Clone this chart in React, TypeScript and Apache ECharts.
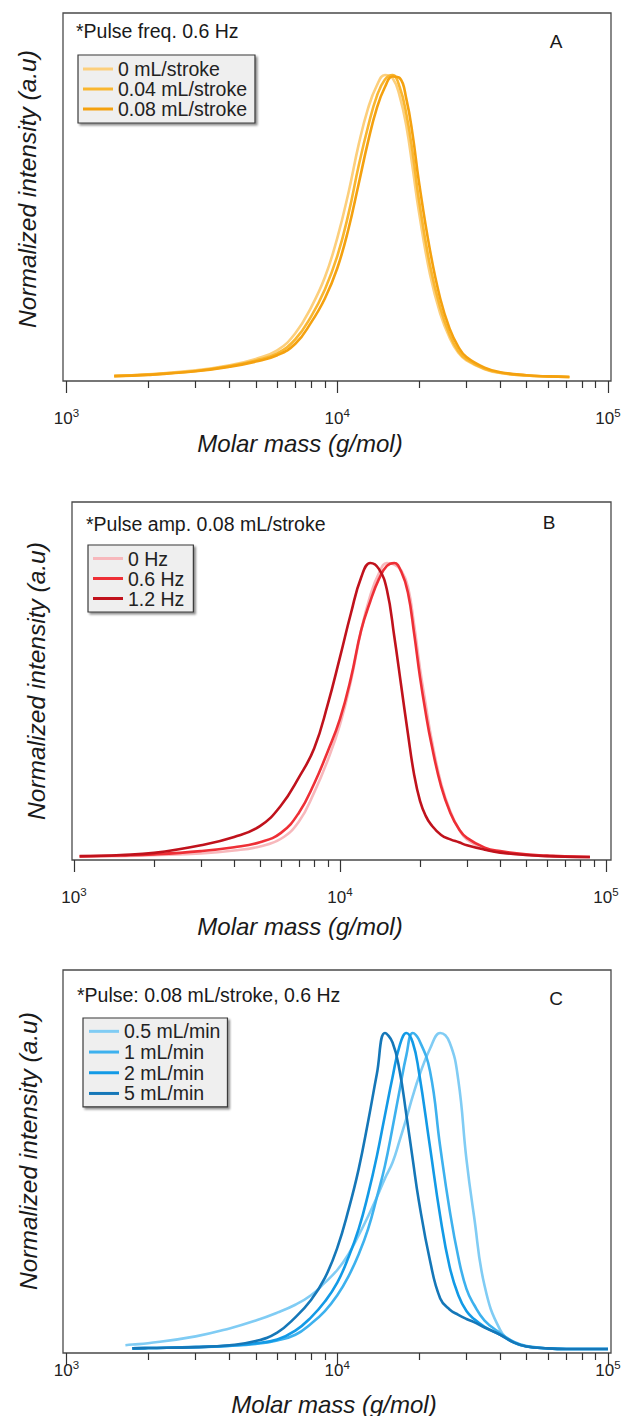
import React, { useEffect, useRef } from 'react';
import * as echarts from 'echarts';

// ---------- data ----------
// Panel A: pulse amplitude (pulse freq. 0.6 Hz)
const massA = [1500, 2000, 3000, 4000, 5000, 6000, 7000, 8000, 9000, 10000, 11000, 12000, 13000, 14000, 15000, 16000, 17000, 18000, 19000, 20000, 22000, 24000, 26000, 28000, 30000, 35000, 40000, 50000, 60000, 72000];
const a0 = [0.004, 0.009, 0.022, 0.039, 0.06, 0.088, 0.145, 0.23, 0.33, 0.46, 0.61, 0.77, 0.89, 0.965, 1.0, 0.99, 0.93, 0.83, 0.69, 0.55, 0.34, 0.21, 0.13, 0.08, 0.055, 0.026, 0.013, 0.005, 0.002, 0];
const a004 = [0.003, 0.008, 0.02, 0.036, 0.055, 0.078, 0.125, 0.2, 0.29, 0.4, 0.54, 0.7, 0.83, 0.93, 0.985, 1.0, 0.96, 0.87, 0.74, 0.59, 0.37, 0.23, 0.14, 0.085, 0.058, 0.027, 0.014, 0.005, 0.002, 0];
const a008 = [0.003, 0.007, 0.019, 0.034, 0.051, 0.072, 0.11, 0.18, 0.26, 0.36, 0.49, 0.64, 0.78, 0.89, 0.96, 0.995, 0.99, 0.92, 0.8, 0.65, 0.42, 0.26, 0.16, 0.1, 0.066, 0.031, 0.016, 0.006, 0.002, 0];

// Panel B: pulse frequency (pulse amp. 0.08 mL/stroke)
const massB = [1050, 1500, 2000, 3000, 4000, 5000, 6000, 7000, 8000, 9000, 10000, 11000, 12000, 13000, 14000, 15000, 16000, 17000, 18000, 19000, 20000, 21000, 22000, 24000, 26000, 28000, 30000, 35000, 40000, 50000, 60000, 70000, 87000];
const b0 = [0.001, 0.003, 0.006, 0.012, 0.022, 0.036, 0.062, 0.12, 0.22, 0.33, 0.45, 0.6, 0.77, 0.89, 0.965, 1.0, 0.995, 0.975, 0.92, 0.79, 0.64, 0.52, 0.41, 0.25, 0.155, 0.095, 0.06, 0.028, 0.016, 0.007, 0.003, 0.001, 0];
const b06 = [0.002, 0.005, 0.009, 0.02, 0.033, 0.05, 0.082, 0.15, 0.25, 0.36, 0.47, 0.61, 0.77, 0.87, 0.945, 0.99, 1.0, 0.97, 0.9, 0.76, 0.61, 0.49, 0.39, 0.24, 0.15, 0.095, 0.065, 0.032, 0.02, 0.009, 0.005, 0.002, 0];
const b12 = [0.003, 0.007, 0.014, 0.04, 0.068, 0.105, 0.175, 0.27, 0.37, 0.52, 0.68, 0.83, 0.95, 1.0, 0.98, 0.91, 0.75, 0.58, 0.42, 0.28, 0.19, 0.14, 0.11, 0.075, 0.06, 0.05, 0.04, 0.025, 0.015, 0.007, 0.003, 0.001, 0];

// Panel C: flow rate (pulse 0.08 mL/stroke, 0.6 Hz)
const massC = [1650, 1750, 2000, 3000, 4000, 5000, 6000, 7000, 8000, 9000, 10000, 11000, 12000, 13000, 14000, 15000, 16000, 17000, 18000, 19000, 20000, 22000, 24000, 26000, 28000, 30000, 32000, 35000, 40000, 45000, 50000, 60000, 70000, 100000];
const c05 = [0.012, 0.014, 0.018, 0.04, 0.065, 0.09, 0.115, 0.14, 0.17, 0.21, 0.25, 0.3, 0.36, 0.42, 0.48, 0.54, 0.59, 0.66, 0.73, 0.8, 0.86, 0.95, 1.0, 0.97, 0.85, 0.6, 0.42, 0.2, 0.06, 0.02, 0.008, 0.002, 0, 0];
const c1 = [null, 0.002, 0.003, 0.006, 0.01, 0.016, 0.027, 0.045, 0.08, 0.12, 0.17, 0.23, 0.3, 0.38, 0.48, 0.58, 0.7, 0.82, 0.93, 1.0, 0.98, 0.88, 0.64, 0.44, 0.29, 0.19, 0.14, 0.09, 0.05, 0.022, 0.009, 0.002, 0, 0];
const c2 = [null, 0.002, 0.003, 0.006, 0.01, 0.018, 0.03, 0.058, 0.1, 0.15, 0.21, 0.29, 0.38, 0.49, 0.61, 0.74, 0.86, 0.96, 1.0, 0.97, 0.88, 0.64, 0.42, 0.26, 0.17, 0.12, 0.095, 0.07, 0.045, 0.02, 0.008, 0.002, 0, 0];
const c5 = [null, 0.002, 0.003, 0.006, 0.012, 0.025, 0.052, 0.1, 0.155, 0.225, 0.32, 0.44, 0.57, 0.72, 0.87, 1.0, 0.97, 0.88, 0.74, 0.6, 0.47, 0.28, 0.16, 0.125, 0.108, 0.095, 0.085, 0.068, 0.045, 0.02, 0.008, 0.002, 0, 0];

const seriesNamesA = ['0 mL/stroke', '0.04 mL/stroke', '0.08 mL/stroke'];
const seriesNamesB = ['0 Hz', '0.6 Hz', '1.2 Hz'];
const seriesNamesC = ['0.5 mL/min', '1 mL/min', '2 mL/min', '5 mL/min'];

const majorExp = [3, 4, 5];
const minorMasses = [2000, 3000, 4000, 5000, 6000, 7000, 8000, 9000, 20000, 30000, 40000, 50000, 60000, 70000, 80000, 90000];

// ---------- styling ----------
const FONT = "'Liberation Sans', Arial, Helvetica, sans-serif";
const colorsA = ['#FCCF7C', '#F9B630', '#F4A10F'];
const colorsB = ['#F7B8BC', '#EE2F36', '#C0121C'];
const colorsC = ['#80CCF4', '#3DB1EE', '#129AE6', '#1577B8'];

const toPts = (mass: number[], vals: (number | null)[]) =>
  mass
    .map((m, i) => (vals[i] == null ? null : [Math.log10(m), vals[i] as number]))
    .filter((p) => p !== null);

export default function App() {
  const ref = useRef<HTMLDivElement>(null);

  useEffect(() => {
    document.body.style.margin = '0';
    const chart = echarts.init(ref.current!, null, { renderer: 'svg' });

    const panels = [
      { left: 63, top: 13, width: 548, height: 368, xmin: 2.987, xmax: 5.011, ymin: -0.0132, ymax: 1.205, margin: 26 },
      { left: 72, top: 502, width: 539, height: 358, xmin: 2.9925, xmax: 5.0188, ymin: -0.0102, ymax: 1.2075, margin: 26 },
      { left: 63, top: 970, width: 548, height: 383, xmin: 2.987, xmax: 5.011, ymin: -0.0127, ymax: 1.1994, margin: 6 },
    ];

    const grid = panels.map((p) => ({
      left: p.left, top: p.top, width: p.width, height: p.height,
      show: true, borderColor: '#4a4a4a', borderWidth: 1.3, backgroundColor: 'transparent',
    }));

    const xAxis: any[] = [];
    panels.forEach((p, gi) => {
      xAxis.push({
        type: 'value', gridIndex: gi, min: p.xmin, max: p.xmax, position: 'bottom', offset: 0,
        axisLine: { show: false, onZero: false }, splitLine: { show: false },
        axisTick: { show: true, inside: false, length: 12, customValues: majorExp, lineStyle: { color: '#333', width: 1.2 } },
        axisLabel: {
          show: true, customValues: majorExp, margin: p.margin,
          fontSize: 17, fontFamily: FONT, color: '#222', lineHeight: 22,
          formatter: (v: number) => `10{s|${Math.round(v)}}`,
          rich: {
            s: { fontSize: 11.5, fontFamily: FONT, color: '#222', lineHeight: 8, verticalAlign: 'top' },
          },
        },
      });
      xAxis.push({
        type: 'value', gridIndex: gi, min: p.xmin, max: p.xmax, position: 'bottom', offset: 0,
        axisLine: { show: false, onZero: false }, splitLine: { show: false },
        axisTick: { show: true, inside: false, length: 7, customValues: minorMasses.map((m) => Math.log10(m)), lineStyle: { color: '#333', width: 1.2 } },
        axisLabel: { show: false },
      });
    });

    const yAxis = panels.map((p, gi) => ({ type: 'value', gridIndex: gi, min: p.ymin, max: p.ymax, show: false }));

    const mk = (name: string, color: string, gi: number, mass: number[], vals: (number | null)[]) => ({
      type: 'line', name, xAxisIndex: gi * 2, yAxisIndex: gi,
      data: toPts(mass, vals), symbol: 'none', showSymbol: false, smooth: 0.45,
      color, lineStyle: { width: 2.6, color }, silent: true, emphasis: { disabled: true },
    });

    const series = [
      mk(seriesNamesA[0], colorsA[0], 0, massA, a0),
      mk(seriesNamesA[1], colorsA[1], 0, massA, a004),
      mk(seriesNamesA[2], colorsA[2], 0, massA, a008),
      mk(seriesNamesB[0], colorsB[0], 1, massB, b0),
      mk(seriesNamesB[1], colorsB[1], 1, massB, b06),
      mk(seriesNamesB[2], colorsB[2], 1, massB, b12),
      mk(seriesNamesC[0], colorsC[0], 2, massC, c05),
      mk(seriesNamesC[1], colorsC[1], 2, massC, c1),
      mk(seriesNamesC[2], colorsC[2], 2, massC, c2),
      mk(seriesNamesC[3], colorsC[3], 2, massC, c5),
    ];

    const legendBase = {
      orient: 'vertical', icon: 'rect', itemWidth: 30, itemHeight: 3, itemGap: 0, itemTextGap: 9,
      selectedMode: false, backgroundColor: '#efefef', borderColor: '#3a3a3a', borderWidth: 1.2,
      shadowColor: 'rgba(0,0,0,0.45)', shadowBlur: 2, shadowOffsetX: 2, shadowOffsetY: 2,
    };
    const legend = [
      { ...legendBase, data: seriesNamesA, left: 78, top: 55, padding: [4, 8, 4, 5], textStyle: { fontFamily: FONT, fontSize: 19.5, color: '#222', lineHeight: 20 } },
      { ...legendBase, data: seriesNamesB, left: 88, top: 545, padding: [3.5, 9, 3.5, 5], itemTextGap: 8, textStyle: { fontFamily: FONT, fontSize: 19.5, color: '#222', lineHeight: 19.5 } },
      { ...legendBase, data: seriesNamesC, left: 83, top: 1018, padding: [3, 7, 3, 6], textStyle: { fontFamily: FONT, fontSize: 19.5, color: '#222', lineHeight: 20.7 } },
    ];

    const txt = (text: string, x: number, y: number, size: number, opts: any = {}) => ({
      type: 'text', x, y, rotation: opts.rotation || 0, silent: true,
      style: {
        text, fontFamily: FONT, fontSize: size, fontStyle: opts.italic ? 'italic' : 'normal', fill: '#1a1a1a',
        align: opts.align || 'center', verticalAlign: 'middle',
      },
    });

    const graphic = [
      txt('*Pulse freq. 0.6 Hz', 76, 31, 19.5, { align: 'left' }),
      txt('A', 556, 41, 19),
      txt('*Pulse amp. 0.08 mL/stroke', 86, 524, 19.5, { align: 'left' }),
      txt('B', 549, 522, 19),
      txt('*Pulse: 0.08 mL/stroke, 0.6 Hz', 77, 995, 19.5, { align: 'left' }),
      txt('C', 556, 998, 19),
      txt('Normalized intensity (a.u)', 27, 189, 24.5, { italic: true, rotation: Math.PI / 2 }),
      txt('Normalized intensity (a.u)', 36, 681, 24.5, { italic: true, rotation: Math.PI / 2 }),
      txt('Normalized intensity (a.u)', 28, 1151, 24.5, { italic: true, rotation: Math.PI / 2 }),
      txt('Molar mass (g/mol)', 300, 443, 24, { italic: true }),
      txt('Molar mass (g/mol)', 300, 926, 24, { italic: true }),
      txt('Molar mass (g/mol)', 334, 1404, 24, { italic: true }),
    ];

    chart.setOption({
      animation: false,
      backgroundColor: '#ffffff',
      grid, xAxis, yAxis, series, legend, graphic,
      tooltip: { show: false },
    });

    return () => chart.dispose();
  }, []);

  return <div ref={ref} style={{ width: 626, height: 1416 }} />;
}
